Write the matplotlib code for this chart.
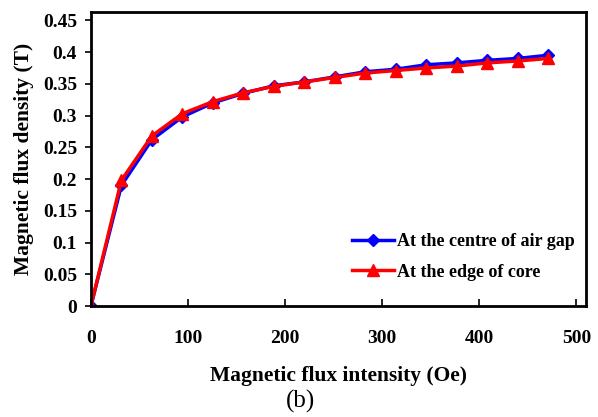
import matplotlib
matplotlib.use("Agg")
import matplotlib.pyplot as plt

# field intensity (Oe) and flux density (T)
intensity = [0, 31.4, 62.8, 94.2, 125.6, 157, 188.4, 219.8, 251.2, 282.6,
             314, 345.4, 376.8, 408.2, 439.6, 471]
centre_air_gap = [0, 0.19, 0.262, 0.298, 0.32, 0.335, 0.347, 0.353, 0.361,
                  0.369, 0.373, 0.38, 0.383, 0.387, 0.39, 0.395]
edge_of_core = [0, 0.198, 0.268, 0.303, 0.322, 0.336, 0.346, 0.353, 0.36,
                0.367, 0.371, 0.375, 0.378, 0.383, 0.386, 0.39]

plt.rcParams['font.family'] = ['Liberation Serif', 'DejaVu Serif']
plt.rcParams['font.weight'] = 'bold'

fig = plt.figure(figsize=(5.98, 4.17), dpi=100)
ax = fig.add_axes([0.152, 0.266, 0.828, 0.705])

ax.plot(intensity, centre_air_gap, color='blue', lw=2.5, marker='D', ms=6,
        label='At the centre of air gap')
ax.plot(intensity, edge_of_core, color='red', lw=2.5, marker='^', ms=8,
        label='At the edge of core')

ax.set_xlim(0, 510)
ax.set_ylim(0, 0.463)
ax.set_xticks([0, 100, 200, 300, 400, 500])
ax.set_yticks([0, 0.05, 0.1, 0.15, 0.2, 0.25, 0.3, 0.35, 0.4, 0.45])
ax.set_yticklabels(['0', '0.05', '0.1', '0.15', '0.2', '0.25', '0.3', '0.35', '0.4', '0.45'])
ax.tick_params(axis='x', direction='in', length=5, width=1.2, labelsize=14, pad=17)
ax.tick_params(axis='y', direction='out', length=4, width=1.2, labelsize=14, pad=6)
for s in ax.spines.values():
    s.set_linewidth(2)

ax.set_xlabel('Magnetic flux intensity (Oe)', fontsize=15.5, fontweight='bold', labelpad=14)
ax.set_ylabel('Magnetic flux density (T)', fontsize=15.5, fontweight='bold', labelpad=6)

ax.legend(loc='lower right', bbox_to_anchor=(1.0, 0.05), frameon=False, fontsize=13,
          handlelength=2.3, handletextpad=0.2, labelspacing=0.75, borderaxespad=0.2)

fig.text(0.503, 0.037, '(b)', ha='center', va='center', fontsize=18, fontweight='normal')

fig.savefig('out.png', dpi=100)
